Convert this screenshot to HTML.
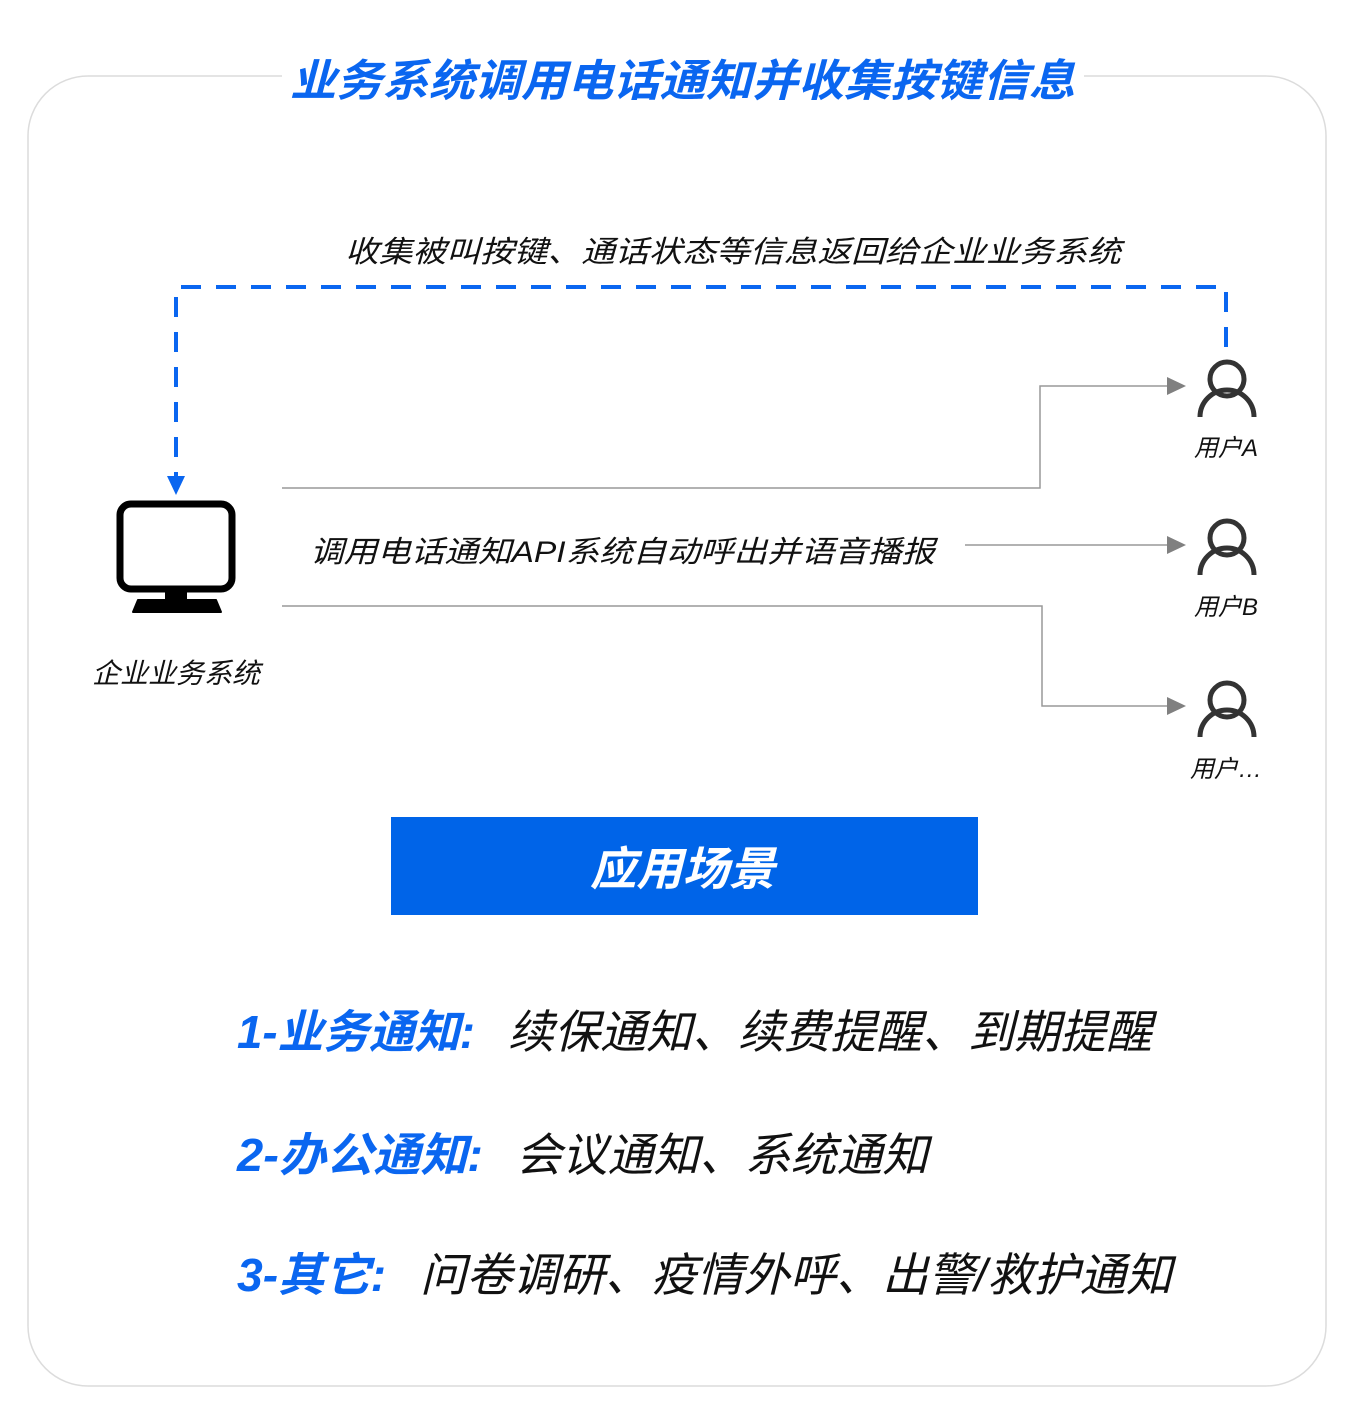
<!DOCTYPE html>
<html><head><meta charset="utf-8"><style>
html,body{margin:0;padding:0;background:#fff;}
svg{display:block;}
text{font-family:"Liberation Sans","Noto Sans CJK SC",sans-serif;}
</style></head><body>
<svg width="1372" height="1418" viewBox="0 0 1372 1418" xmlns="http://www.w3.org/2000/svg">
<rect x="28" y="76" width="1298" height="1310" rx="60" ry="60" fill="#fff" stroke="#dcdcdc" stroke-width="1.5"/>
<rect x="282" y="60" width="802" height="40" fill="#fff"/>
<text x="290" y="96" font-size="44" font-weight="bold" font-style="italic" fill="#0a66f0" textLength="785" lengthAdjust="spacingAndGlyphs">业务系统调用电话通知并收集按键信息</text>

<text x="345" y="262" font-size="30" font-style="italic" fill="#111" textLength="776" lengthAdjust="spacingAndGlyphs">收集被叫按键、通话状态等信息返回给企业业务系统</text>

<!-- dashed blue -->
<path d="M1226 347 V287 H176 V482" fill="none" stroke="#0a66f0" stroke-width="4" stroke-dasharray="20 15"/>
<polygon points="167,476 185,476 176,495" fill="#0a66f0"/>

<!-- gray connectors -->
<g fill="none" stroke="#999" stroke-width="1.5">
<path d="M282 488 H1040 V386 H1170"/>
<path d="M965 545 H1170"/>
<path d="M282 606 H1042 V706 H1170"/>
</g>
<g fill="#808080">
<polygon points="1167,377 1186,386 1167,395"/>
<polygon points="1167,536 1186,545 1167,554"/>
<polygon points="1167,697 1186,706 1167,715"/>
</g>

<!-- users -->
<g fill="none" stroke="#333" stroke-width="5">
<circle cx="1227" cy="379" r="17"/>
<path d="M1200 417 A27 27 0 0 1 1254 417"/>
<circle cx="1227" cy="538" r="17"/>
<path d="M1200 575 A27 27 0 0 1 1254 575"/>
<circle cx="1227" cy="700" r="17"/>
<path d="M1200 737 A27 27 0 0 1 1254 737"/>
</g>
<g font-size="24" font-style="italic" fill="#111" text-anchor="middle">
<text x="1226" y="456">用户A</text>
<text x="1226" y="615">用户B</text>
<text x="1226" y="777">用户…</text>
</g>

<!-- monitor -->
<rect x="120" y="504" width="112" height="85" rx="11" fill="none" stroke="#000" stroke-width="7"/>
<rect x="165" y="590" width="22" height="12" fill="#000"/>
<path d="M138 600 H216 L221 612 H133 Z" fill="#000" stroke="#000" stroke-width="2" stroke-linejoin="round"/>
<text x="176" y="683" font-size="28" font-style="italic" fill="#111" text-anchor="middle">企业业务系统</text>

<text x="310" y="562" font-size="30" font-style="italic" fill="#111" textLength="625" lengthAdjust="spacingAndGlyphs">调用电话通知API系统自动呼出并语音播报</text>

<!-- blue box -->
<rect x="391" y="817" width="587" height="98" fill="#0064e8"/>
<text x="590" y="885" font-size="46" font-weight="bold" font-style="italic" fill="#fff" textLength="185" lengthAdjust="spacingAndGlyphs">应用场景</text>

<!-- list -->
<g font-size="46" font-style="italic">
<text x="237" y="1048" font-weight="bold" fill="#0a66f0" textLength="238" lengthAdjust="spacingAndGlyphs">1-业务通知:</text>
<text x="508" y="1048" fill="#111" textLength="644" lengthAdjust="spacingAndGlyphs">续保通知、续费提醒、到期提醒</text>
<text x="237" y="1171" font-weight="bold" fill="#0a66f0" textLength="246" lengthAdjust="spacingAndGlyphs">2-办公通知:</text>
<text x="516" y="1171" fill="#111" textLength="412" lengthAdjust="spacingAndGlyphs">会议通知、系统通知</text>
<text x="237" y="1291" font-weight="bold" fill="#0a66f0" textLength="149" lengthAdjust="spacingAndGlyphs">3-其它:</text>
<text x="420" y="1291" fill="#111" textLength="752" lengthAdjust="spacingAndGlyphs">问卷调研、疫情外呼、出警/救护通知</text>
</g>
</svg>
</body></html>
